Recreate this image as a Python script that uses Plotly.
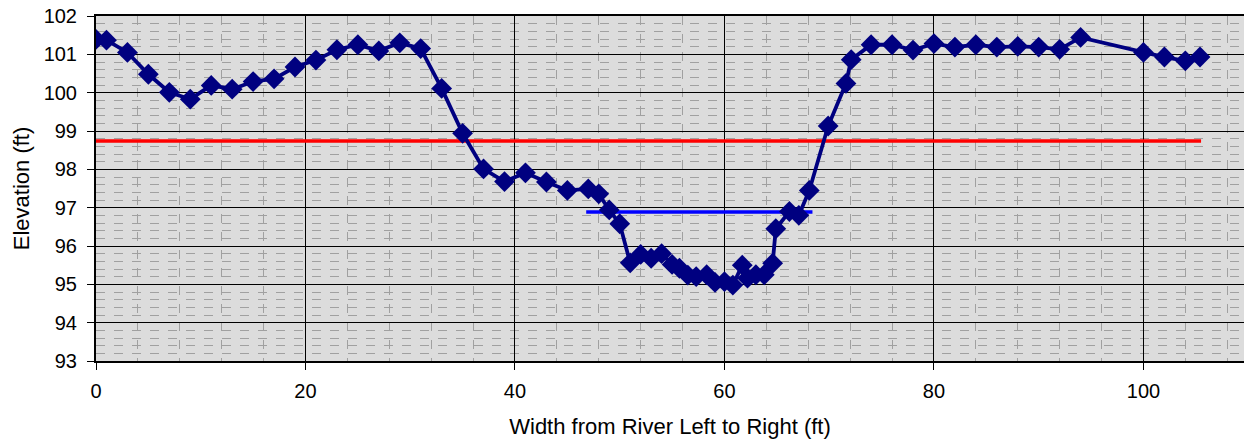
import plotly.graph_objects as go

# Survey cross-section
station_ft = [0, 1, 3, 5, 7, 9, 11, 13, 15, 17, 19, 21, 23, 25, 27, 29, 31, 33, 35, 37,
              39, 41, 43, 45, 47, 48, 49, 50, 51, 52, 53, 54, 55, 55.7, 56.5, 57.3, 58.3,
              59.1, 60, 60.8, 61.7, 62.2, 63, 63.8, 64.6, 64.9, 66.2, 67.1, 68.1, 69.9,
              71.6, 72.1, 74, 76, 78, 80, 82, 84, 86, 88, 90, 92, 94, 100, 102, 104, 105.4]
elevation_ft = [101.39, 101.37, 101.05, 100.48, 100.01, 99.83, 100.19, 100.09, 100.29, 100.36,
                100.67, 100.85, 101.12, 101.25, 101.09, 101.30, 101.15, 100.11, 98.94, 98.01,
                97.68, 97.91, 97.67, 97.45, 97.49, 97.36, 96.94, 96.58, 95.56, 95.78, 95.68,
                95.80, 95.52, 95.42, 95.24, 95.20, 95.25, 95.05, 95.07, 94.98, 95.50, 95.16,
                95.25, 95.25, 95.55, 96.45, 96.90, 96.80, 97.45, 99.13, 100.24, 100.86,
                101.25, 101.25, 101.11, 101.28, 101.19, 101.25, 101.19, 101.21, 101.19,
                101.13, 101.44, 101.05, 100.93, 100.83, 100.93]

# Reference levels
bankfull_x = [0, 105.5]
bankfull_y = [98.74, 98.74]
water_x = [46.8, 68.4]
water_y = [96.89, 96.89]

x_ticks = [0, 20, 40, 60, 80, 100]
y_ticks = [93, 94, 95, 96, 97, 98, 99, 100, 101, 102]

fig = go.Figure()
fig.add_trace(go.Scatter(x=bankfull_x, y=bankfull_y, mode="lines",
                         line=dict(color="#FF0000", width=3.5), showlegend=False))
fig.add_trace(go.Scatter(x=water_x, y=water_y, mode="lines",
                         line=dict(color="#0000FF", width=3.5), showlegend=False))
fig.add_trace(go.Scatter(x=station_ft, y=elevation_ft, mode="lines+markers",
                         line=dict(color="#000080", width=3.8),
                         marker=dict(symbol="diamond", size=16, color="#000080"),
                         showlegend=False))

font = "Liberation Sans, Arial, sans-serif"
fig.update_layout(
    width=1244, height=445,
    margin=dict(l=96, r=0, t=16, b=84),
    paper_bgcolor="white",
    plot_bgcolor="#DCDCDC",
    font=dict(family=font, size=20, color="black"),
    xaxis=dict(
        range=[0, 109.6], tickvals=x_ticks, ticks="outside", ticklen=7, tickcolor="black",
        showline=True, linecolor="black", linewidth=2, mirror=True, automargin=False,
        showgrid=True, gridcolor="black", gridwidth=1, zeroline=False,
        minor=dict(dtick=4, showgrid=True, gridcolor="#A0A0A0", griddash="dash", gridwidth=1),
        title=dict(text="Width from River Left to Right (ft)", font=dict(size=22), standoff=18),
        tickfont=dict(size=20), ticklabelstandoff=4,
    ),
    yaxis=dict(
        range=[93, 102], tickvals=y_ticks, ticks="outside", ticklen=7, tickcolor="black",
        showline=True, linecolor="black", linewidth=2, automargin=False,
        showgrid=True, gridcolor="black", gridwidth=1, zeroline=False,
        minor=dict(dtick=0.2, showgrid=True, gridcolor="#A0A0A0", griddash="dash", gridwidth=1),
        title=dict(text="Elevation (ft)", font=dict(size=22), standoff=8),
        tickfont=dict(size=20), ticklabelstandoff=6,
    ),
)

fig.write_html("out.html",
               config={"displayModeBar": False},
               post_script="document.body.style.margin='0';document.body.style.overflow='hidden';")
